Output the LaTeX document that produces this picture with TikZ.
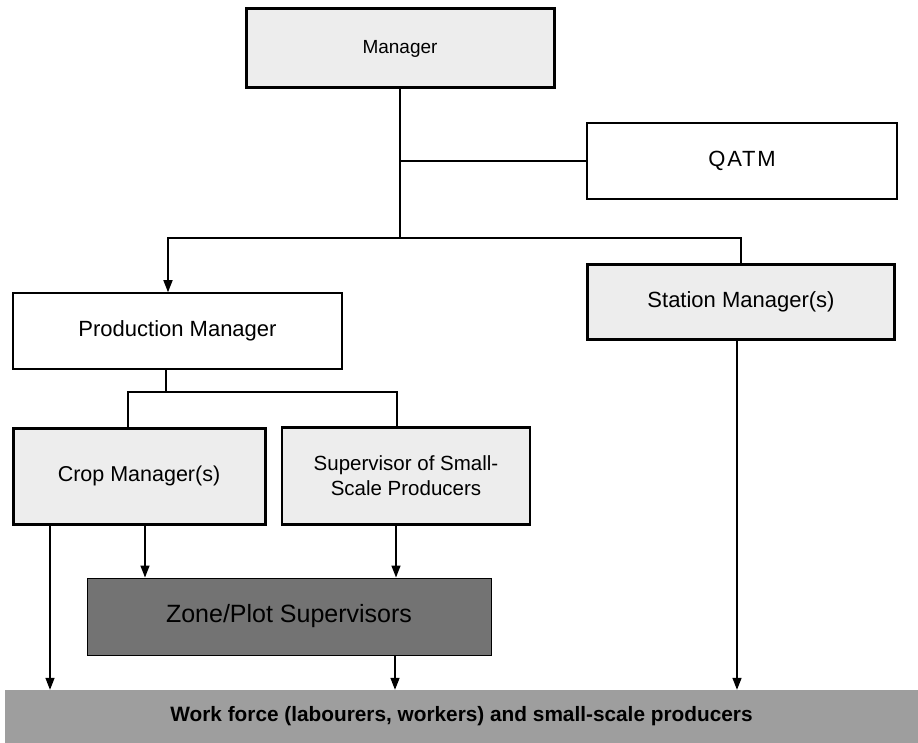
\documentclass[tikz,border=0pt]{standalone}
\usepackage{fontspec}
\setmainfont{Liberation Sans}
\usetikzlibrary{arrows.meta}
\definecolor{lightbox}{gray}{0.93}
\definecolor{zonegray}{gray}{0.45}
\definecolor{workgray}{gray}{0.62}
\tikzset{
  orgbox/.style={draw=black, rectangle, inner sep=0pt, align=center,
    font=\fontsize{22}{27}\selectfont},
  thickbox/.style={orgbox, line width=3pt, fill=lightbox},
  thinbox/.style={orgbox, line width=1.5pt, fill=white},
  link/.style={draw=black, line width=1.5pt},
  arrowlink/.style={link, -{Triangle[length=12pt,width=9pt]}},
}
\begin{document}
\begin{tikzpicture}[x=1pt,y=-1pt]
\useasboundingbox (0,0) rectangle (918,743);
\fill[white] (0,0) rectangle (918,743);

% nodes
\node[thickbox, minimum width=308pt, minimum height=79pt, font=\fontsize{19}{24}\selectfont] (mgr) at (400,48.5) {Manager};
\node[thinbox, minimum width=310pt, minimum height=76pt, font=\fontsize{22}{27}\selectfont\addfontfeatures{LetterSpace=8}] (qatm) at (742,161) {QATM};
\node[thinbox, minimum width=329pt, minimum height=76pt] (prod) at (177.5,331) {Production Manager};
\node[thickbox, minimum width=307pt, minimum height=74pt] (stat) at (741,302) {Station Manager(s)};
\node[thickbox, minimum width=252pt, minimum height=96pt, font=\fontsize{21.5}{26}\selectfont] (crop) at (139,476) {Crop Manager(s)};
\node[thickbox, line width=2.5pt, minimum width=248pt, minimum height=97pt, font=\fontsize{20.5}{25}\selectfont] (sup) at (406,476) {Supervisor of Small-\\Scale Producers};
\node[orgbox, line width=1pt, fill=zonegray, minimum width=404pt, minimum height=77pt, font=\fontsize{25}{30}\selectfont] (zone) at (289,616.5) {Zone/Plot Supervisors};
\node[orgbox, draw=none, fill=workgray, minimum width=913pt, minimum height=53pt, font=\bfseries\fontsize{20.8}{25}\selectfont] (work) at (461.5,716.5) {Work force (labourers, workers) and small-scale producers};

% junctions
\coordinate (hub) at (400,238);
\coordinate (qtap) at (400,161);
\coordinate (pj) at (166,392);

% connectors
\draw[link] (mgr.south) -- (hub);
\draw[link] (qtap) -- (qatm.west);
\draw[link] (hub) -| (stat.north);
\draw[arrowlink] (hub) -| ([xshift=-9.5pt]prod.north);
\draw[link] ([xshift=-11.5pt]prod.south) -- (pj);
\draw[link] ([xshift=-11pt]crop.north) |- (pj) -| ([xshift=-9pt]sup.north);

\draw[arrowlink] ([xshift=-89pt]crop.south) -- ([xshift=-89pt]crop.south |- work.north);
\draw[arrowlink] ([xshift=6pt]crop.south) -- ([xshift=6pt]crop.south |- zone.north);
\draw[arrowlink] ([xshift=-10pt]sup.south) -- ([xshift=-10pt]sup.south |- zone.north);
\draw[arrowlink] ([xshift=106pt]zone.south) -- ([xshift=106pt]zone.south |- work.north);
\draw[arrowlink] ([xshift=-4pt]stat.south) -- ([xshift=-4pt]stat.south |- work.north);
\end{tikzpicture}
\end{document}
